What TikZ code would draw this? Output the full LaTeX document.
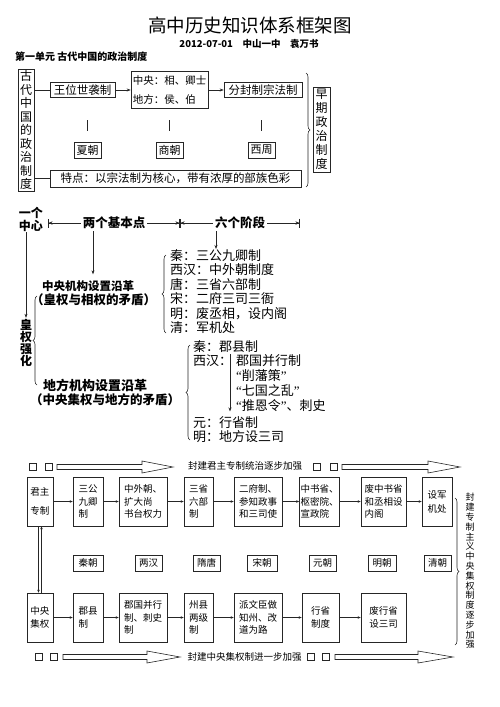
\documentclass[tikz,border=0pt]{standalone}
\usepackage{fontspec}
\setmainfont{Noto Sans CJK SC}
\newfontfamily\kjqfont{Liberation Serif}
\usetikzlibrary{arrows.meta, positioning, decorations.pathreplacing, calc}
\newcommand{\kjfs}[2]{\fontsize{#1}{#2}\selectfont}
\newcommand{\kjq}[1]{{\kjqfont “}#1{\kjqfont ”}}
% 空心大箭头: 起点, 箭头起点, 尖端, y
\newcommand{\kjarrow}[4]{%
  \draw[kj/hollow] (#1,#4-2.5) -- (#2,#4-2.5) -- (#2,#4-6) -- (#3,#4)
    -- (#2,#4+6) -- (#2,#4+2.5) -- (#1,#4+2.5) -- cycle;}
\tikzset{
  kj/box/.style={rectangle, draw=black!85, line width=0.6pt, inner sep=1pt,
    minimum height=15pt, align=center, font=\kjfs{11.5}{13}},
  kj/vbox/.style={rectangle, draw=black!85, line width=0.6pt, inner sep=1.5pt,
    minimum width=16pt, align=center, font=\kjfs{12}{13.5}},
  kj/txt/.style={inner sep=0pt, align=left, font=\kjfs{13}{14.5}},
  kj/head/.style={inner sep=1pt, align=center, font=\bfseries\kjfs{12}{13}},
  kj/lbl/.style={fill=white, inner sep=2pt, font=\bfseries\kjfs{12.5}{13}},
  kj/fbox/.style={rectangle, draw=black!85, line width=0.6pt, inner sep=1pt,
    minimum height=49pt, align=left, font=\kjfs{9.5}{12.5}},
  kj/chao/.style={rectangle, draw=black!85, line width=0.6pt, inner sep=1pt,
    minimum height=16pt, font=\kjfs{9.5}{10}},
  kj/sq/.style={rectangle, draw=black!85, line width=0.5pt, minimum size=7pt,
    inner sep=0pt},
  kj/hollow/.style={draw=black!85, line width=0.6pt, line join=miter},
  kj/line/.style={draw=black!85, line width=0.6pt},
  kj/arr/.style={-{Stealth[length=4pt,width=3pt]}, line width=0.6pt,
    draw=black!85},
  kj/sarr/.style={-{Stealth[length=3pt,width=2.5pt]}, line width=0.5pt,
    draw=black!85},
  kj/dim/.style={arrows={Bar[width=9pt]Stealth[length=4pt,width=3.5pt]-Stealth[length=4pt,width=3.5pt]Bar[width=9pt]},
    line width=0.6pt, draw=black!85},
  kj/brace/.style={decorate, decoration={brace, amplitude=4pt},
    line width=0.6pt, draw=black!85}
}

\begin{document}
\begin{tikzpicture}[x=1pt, y=-1pt]
  \useasboundingbox (0,0) rectangle (500,707);

  % 标题
  \node[font=\kjfs{18.5}{19}] (title) at (250,25) {高中历史知识体系框架图};
  \node[font=\bfseries\kjfs{9.5}{10}] (sub) at (249,44)
        {2012-07-01\quad 中山一中\quad 袁万书};
  \node[font=\bfseries\kjfs{10}{10}, anchor=west, inner sep=0pt] (unit)
        at (15,57) {第一单元\ 古代中国的政治制度};

  % 第一部分: 早期政治制度
  \node[kj/vbox, minimum height=122pt] (gd) at (26,130)
        {古\\代\\中\\国\\的\\政\\治\\制\\度};
  \node[kj/box, minimum width=65pt] (ww) at (82.5,90) {王位世袭制};
  \node[kj/box, minimum width=77pt, minimum height=37pt, align=left,
        font=\kjfs{10.5}{19}] (zy) at (169.5,90) {中央：相、卿士\\地方：侯、伯};
  \node[kj/box, minimum width=78pt] (ff) at (263,90) {分封制宗法制};
  \node[kj/box, minimum width=27pt, minimum height=16pt, font=\kjfs{11}{12}]
        (xia) at (87.5,150) {夏朝};
  \node[kj/box, minimum width=27pt, minimum height=16pt, font=\kjfs{11}{12}]
        (shang) at (169.5,150) {商朝};
  \node[kj/box, minimum width=27pt, minimum height=16pt, font=\kjfs{11}{12}]
        (xz) at (261.5,150) {西周};
  \node[kj/box, minimum width=251pt, minimum height=17pt] (td) at (175.5,178.5)
        {特点：以宗法制为核心，带有浓厚的部族色彩};
  \node[kj/vbox, minimum width=17pt, minimum height=85pt, font=\kjfs{12}{14}]
        (zq) at (321.5,129.5) {早\\期\\政\\治\\制\\度};

  \draw[kj/line] (gd.east |- ww.west) -- (ww.west);
  \draw[kj/line] (gd.east |- td.west) -- (td.west);
  \draw[kj/arr] (ww) -- (zy);
  \draw[kj/arr] (zy) -- (ff);
  \foreach \n in {xia,shang,xz}
    \draw[kj/line] ([yshift=11pt]\n.north) -- ([yshift=22pt]\n.north);
  \draw[kj/brace] (306,73) -- (306,187);

  % 第二部分: 一个中心, 两个基本点, 六个阶段
  \node[kj/head] (yz) at (31,219) {一个\\中心};
  \coordinate (d0) at (48,223);
  \coordinate (d1) at (180,223);
  \coordinate (d2) at (300,223);
  \draw[kj/dim] (d0) -- node[kj/lbl] (jb) {两个基本点} (d1);
  \draw[kj/dim] (d1) -- node[kj/lbl] (ljd) {六个阶段} (d2);

  \node[kj/head, font=\bfseries\kjfs{12}{12.2}] (hq) at (26,343)
        {皇\\权\\强\\化};
  \draw[kj/arr] (yz.south -| hq.north) -- (hq.north);

  \node[kj/txt, anchor=west, font=\bfseries\kjfs{11.5}{12}] (cz) at (42,286)
        {中央机构设置沿革};
  \node[kj/txt, anchor=west, font=\bfseries\kjfs{12.5}{13}] (czm) at (31,300)
        {（皇权与相权的矛盾）};
  \coordinate (a1) at ([xshift=-21pt]jb.south);
  \draw[kj/arr, shorten >=6pt] (a1) -- (a1 |- cz.north);

  \node[kj/txt, anchor=north west] (zl) at (170,249)
        {秦：三公九卿制\\西汉：中外朝制度\\唐：三省六部制\\宋：二府三司三衙\\明：废丞相，设内阁\\清：军机处};
  \coordinate (a2) at ([xshift=-24pt]ljd.south);
  \draw[kj/arr] (a2) -- (a2 |- zl.north);
  \draw[kj/brace] (166,333) -- (166,255);

  \draw[kj/brace] (37,385) -- (37,296);
  \node[kj/txt, anchor=west, font=\bfseries\kjfs{13}{13}] (df) at (43,385)
        {地方机构设置沿革};
  \node[kj/txt, anchor=west, font=\bfseries\kjfs{12.5}{13}] (dfm) at (30,400)
        {（中央集权与地方的矛盾）};

  \draw[kj/brace] (190,440) -- (190,345);
  \node[kj/txt, anchor=north west, font=\kjfs{13}{14}] (dl1) at (193,340)
        {秦：郡县制\\西汉：};
  \node[kj/txt, anchor=north west, font=\kjfs{13}{15}] (dl2) at (236,354)
        {郡国并行制\\\kjq{削藩策}\\\kjq{七国之乱}\\\kjq{推恩令}、刺史};
  \node[kj/txt, anchor=north west, font=\kjfs{13}{14}] (dl3) at (193,416)
        {元：行省制\\明：地方设三司};
  \draw[kj/arr] ([xshift=-6pt]dl2.north west) -- ([xshift=-6pt]dl2.south west);

  % 第三部分: 君主专制与中央集权
  \node[kj/sq] (sq1) at (33,467) {};
  \node[kj/sq] (sq2) at (49,467) {};
  \kjarrow{57}{142}{173}{467}
  \node[font=\kjfs{9.5}{10}] (t1) at (245,466) {封建君主专制统治逐步加强};
  \node[kj/sq] (sq3) at (316.5,467) {};
  \node[kj/sq] (sq4) at (333.5,467) {};
  \kjarrow{342}{428}{460}{467}

  \node[kj/fbox, minimum width=26pt, font=\kjfs{9.5}{19}] (jz) at (40,501.5) {君主\\专制};
  \node[kj/fbox, minimum width=30pt] (sg) at (88,501.5) {三公\\九卿\\制};
  \node[kj/fbox, minimum width=48pt] (zw) at (143,501.5) {中外朝、\\扩大尚\\书台权力};
  \node[kj/fbox, minimum width=29pt] (sx) at (198.5,501.5) {三省\\六部\\制};
  \node[kj/fbox, minimum width=48pt] (ef) at (258,501.5) {二府制、\\参知政事\\和三司使};
  \node[kj/fbox, minimum width=39pt] (zs) at (319.5,501.5) {中书省、\\枢密院、\\宣政院};
  \node[kj/fbox, minimum width=45pt] (fz) at (383.5,501.5) {废中书省\\和丞相设\\内阁};
  \node[kj/fbox, minimum width=30pt, font=\kjfs{9.5}{14}] (jj) at (437,501.5) {设军\\机处};
  \foreach \a/\b in {jz/sg, sg/zw, zw/sx, sx/ef, ef/zs, zs/fz, fz/jj}
    \draw[kj/sarr] (\a) -- (\b);

  \node[kj/chao, minimum width=30pt] (qin) at (88,563) {秦朝};
  \node[kj/chao, minimum width=27pt] (lh) at (148.5,563) {两汉};
  \node[kj/chao, minimum width=27pt] (st) at (206.5,563) {隋唐};
  \node[kj/chao, minimum width=30pt] (song) at (262,563) {宋朝};
  \node[kj/chao, minimum width=27pt] (yuan) at (322.5,563) {元朝};
  \node[kj/chao, minimum width=28pt] (ming) at (382,563) {明朝};
  \node[kj/chao, minimum width=27pt] (qing) at (437.5,563) {清朝};

  \node[kj/fbox, minimum width=26pt, font=\kjfs{9.5}{13}] (zyjq) at (40,617.5) {中央\\集权};
  \node[kj/fbox, minimum width=30pt, font=\kjfs{9.5}{13}] (jx) at (88,617.5) {郡县\\制};
  \node[kj/fbox, minimum width=48pt] (jg) at (143,617.5) {郡国并行\\制、刺史\\制};
  \node[kj/fbox, minimum width=29pt] (zx) at (198.5,617.5) {州县\\两级\\制};
  \node[kj/fbox, minimum width=48pt] (pw) at (258,617.5) {派文臣做\\知州、改\\道为路};
  \node[kj/fbox, minimum width=37pt, font=\kjfs{9.5}{13}] (xs) at (320.5,617.5) {行省\\制度};
  \node[kj/fbox, minimum width=45pt, font=\kjfs{9.5}{13}] (fx) at (383.5,617.5) {废行省\\设三司};
  \foreach \a/\b in {zyjq/jx, jx/jg, jg/zx, zx/pw, pw/xs, xs/fx}
    \draw[kj/sarr] (\a) -- (\b);

  % 君主专制与中央集权相互作用
  \draw[kj/sarr] ([xshift=-1.5pt]jz.south) -- ([xshift=-1.5pt]zyjq.north);
  \draw[kj/sarr] ([xshift=1.5pt]zyjq.north) -- ([xshift=1.5pt]jz.south);

  \node[kj/sq] (sq5) at (38.5,657) {};
  \node[kj/sq] (sq6) at (54,657) {};
  \kjarrow{63}{147}{180}{657}
  \node[font=\kjfs{9.5}{10}] (t2) at (244.5,657) {封建中央集权制进一步加强};
  \node[kj/sq] (sq7) at (310.5,657) {};
  \node[kj/sq] (sq8) at (325.5,657) {};
  \kjarrow{335}{418}{453}{657}

  \draw[kj/brace] (455,498) -- (455,645);
  \node[inner sep=0pt, align=center, font=\kjfs{9}{9.8}] (zj) at (470,571)
        {封\\建\\专\\制\\主\\义\\中\\央\\集\\权\\制\\度\\逐\\步\\加\\强};
\end{tikzpicture}
\end{document}
